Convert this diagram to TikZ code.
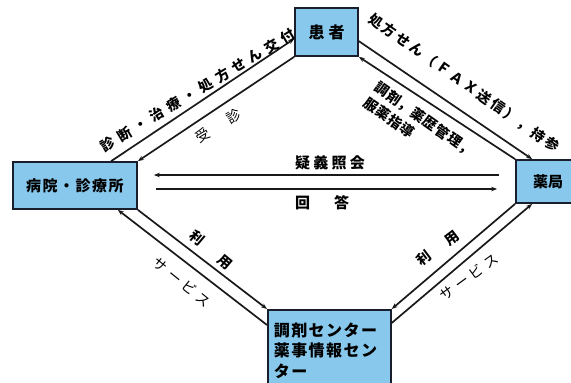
\documentclass[tikz,border=0pt]{standalone}
\usepackage{fontspec}
\setmainfont{Noto Sans CJK JP}
\usetikzlibrary{arrows.meta,calc}
\definecolor{boxfill}{RGB}{135,200,236}
\definecolor{boxline}{RGB}{25,30,45}
\newcommand\trk[1]{\addfontfeature{LetterSpace=#1}}
\begin{document}
\begin{tikzpicture}[x=1pt,y=-1pt,
  box/.style={draw=boxline,line width=1.7pt,fill=boxfill,inner sep=0pt,
    font=\bfseries\fontsize{15}{18}\selectfont},
  link/.style={line width=1.7pt,draw=black!90},
  tip/.style={-{Stealth[length=6pt,width=4.5pt]}},
  tipl/.style={{Stealth[length=6pt,width=4.5pt]}-},
  lab/.style={inner sep=0pt,font=\bfseries\fontsize{14}{16}\selectfont},
  labl/.style={inner sep=0pt,font=\fontsize{14}{16}\selectfont}]
\useasboundingbox (0,0) rectangle (571,383);
% boxes
\node[box,minimum width=63pt,minimum height=48pt,font=\bfseries\fontsize{16}{18}\selectfont] (pat) at (326.5,32) {患\hspace{4pt}者};
\node[box,minimum width=124pt,minimum height=47pt,font=\bfseries\fontsize{15}{18}\selectfont\trk{10}] (hos) at (75,185.5) {病院・診療所};
\node[box,minimum width=64pt,minimum height=43pt] (phr) at (548,181.5) {薬局};
\node[box,anchor=north west,text width=111pt,align=left,inner xsep=6pt,inner ysep=13pt,
  font=\bfseries\fontsize{16}{20.5}\selectfont\trk{9}] (cen) at (267,309) {調剤センター\\薬事情報セン\\ター};
% connectors top-left
\draw[link,tip] ($(hos.north west)+(99,0)$) -- ($(pat.south west)+(0,-18)$);
\draw[link,tip] (pat.south west) -- (hos.north east);
% top-right
\draw[link,tip] ($(pat.north east)+(0,34)$) -- ($(phr.north west)+(17,0)$);
\draw[link,tip] (phr.north west) -- (pat.south east);
% bottom-right
\draw[link,tip] (phr.south west) -- (cen.north east);
\draw[link,tip] ($(cen.north east)+(0,14)$) -- ($(phr.south west)+(17,0)$);
% bottom-left
\draw[link,tip] (hos.south east) -- (cen.north west);
\draw[link,tip] ($(cen.north west)+(0,16)$) -- ($(hos.south east)+(-20,0)$);
% horizontal
\coordinate (hA) at ([yshift=10.5pt]hos.east);
\coordinate (hB) at ([yshift=-3.5pt]hos.east);
\draw[link,tipl,shorten <=16pt,shorten >=16pt] (hA) -- (hA -| phr.west);
\draw[link,tip,shorten <=18pt,shorten >=18pt] (hB) -- (hB -| phr.west);
% labels
\node[lab,rotate=31,font=\bfseries\fontsize{14}{16}\selectfont\trk{36}] (l1) at (198,90) {診断・治療・処方せん交付};
\node[labl,rotate=31] (l2) at (218,126) {受\hspace{22pt}診};
\node[lab,rotate=-35,font=\bfseries\fontsize{14}{16}\selectfont\trk{18}] (l3) at (464,83) {処方せん（ＦＡＸ送信），持参};
\node[lab,rotate=-35,align=left,font=\bfseries\fontsize{14}{19}\selectfont\trk{6}] (l4) at (419,127) {調剤，薬歴管理，\\服薬指導};
\node[lab,font=\bfseries\fontsize{15}{17}\selectfont\trk{22}] (l5) at (330,163) {疑義照会};
\node[lab,font=\bfseries\fontsize{15}{17}\selectfont] (l6) at (322,203) {回\hspace{24pt}答};
\node[lab,rotate=-40] (l7) at (211,250) {利\hspace{23pt}用};
\node[labl,rotate=-39,font=\fontsize{14}{16}\selectfont\trk{30}] (l8) at (182,282) {サービス};
\node[lab,rotate=37] (l9) at (438,248) {利\hspace{20pt}用};
\node[labl,rotate=36,font=\fontsize{14}{16}\selectfont\trk{30}] (l10) at (469,277) {サービス};
\end{tikzpicture}
\end{document}
